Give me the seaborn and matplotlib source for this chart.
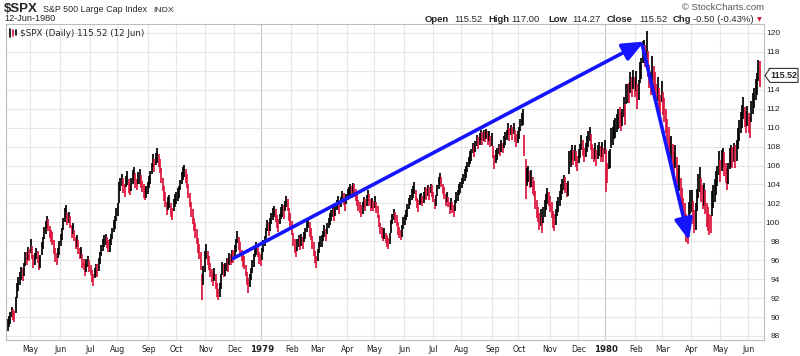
import numpy as np
import matplotlib
matplotlib.use("Agg")
import matplotlib.pyplot as plt
from matplotlib.patches import Polygon
from matplotlib.lines import Line2D
from matplotlib.transforms import IdentityTransform
import seaborn as sns

# months on the axis and number of trading days in each
# (first month starts 6-Apr-1978, last one ends 12-Jun-1980)
month_labels = ["Apr", "May", "Jun", "Jul", "Aug", "Sep", "Oct", "Nov", "Dec",
                "1979", "Feb", "Mar", "Apr", "May", "Jun", "Jul", "Aug", "Sep", "Oct", "Nov", "Dec",
                "1980", "Feb", "Mar", "Apr", "May", "Jun"]
month_days = [17, 22, 22, 20, 23, 20, 22, 21, 20,
              22, 19, 22, 20, 22, 21, 21, 23, 19, 23, 21, 20,
              22, 20, 21, 21, 21, 9]

# daily close of $SPX (open = close in this old data)
close = [
    # Apr 78
    89.2, 89.6, 90.1, 90.5, 90.3, 90.0, 91.6, 92.9, 93.6, 94.0, 94.8, 94.3, 95.0, 96.4, 96.1, 96.8, 96.5,
    # May 78
    97.4, 96.6, 95.9, 96.3, 96.7, 96.2, 95.6, 96.1, 97.3, 98.0, 98.8, 99.5, 100.2, 99.6, 98.9, 98.6, 98.1,
    97.3, 96.6, 96.2, 96.8, 97.4,
    # Jun 78
    98.2, 98.9, 99.8, 100.9, 101.0, 100.3, 100.6, 99.9, 99.1, 99.4, 98.5, 97.9, 98.2, 97.3, 96.6, 96.9,
    95.8, 95.5, 95.0, 95.6, 95.9, 95.3,
    # Jul 78
    94.9, 94.3, 94.0, 94.6, 95.1, 94.8, 95.6, 96.4, 96.9, 97.6, 97.9, 98.3, 97.9, 97.4, 97.7, 98.2, 98.9,
    99.5, 100.1, 100.7,
    # Aug 78
    101.3, 103.5, 104.1, 104.4, 103.8, 103.6, 104.3, 104.6, 103.9, 103.5, 104.0, 104.9, 105.1, 104.5,
    104.1, 104.7, 104.9, 104.2, 103.9, 103.4, 103.0, 103.3, 103.6,
    # Sep 78
    104.2, 104.8, 105.6, 106.4, 106.1, 106.8, 107.2, 106.6, 105.9, 104.8, 104.1, 103.0, 102.5, 101.6,
    101.9, 102.2, 101.4, 101.0, 101.8, 102.4,
    # Oct 78
    102.6, 102.9, 103.3, 103.9, 104.6, 105.2, 105.4, 105.0, 104.3, 103.2, 102.3, 101.4, 100.5, 99.7,
    99.2, 98.4, 97.6, 96.8, 95.9, 93.4, 94.5, 96.2,
    # Nov 78
    96.8, 96.3, 95.6, 95.1, 94.4, 93.9, 94.6, 93.7, 92.9, 92.4, 92.8, 93.9, 95.2, 94.8, 95.0, 95.7, 95.4,
    96.2, 96.0, 96.5, 96.3,
    # Dec 78
    96.9, 97.6, 98.3, 97.9, 97.2, 96.6, 96.1, 95.7, 95.0, 94.2, 93.4, 93.8, 94.6, 95.3, 96.1, 96.8, 97.3,
    96.9, 96.4, 96.1,
    # Jan 79
    96.7, 97.4, 98.1, 98.8, 99.6, 99.2, 99.9, 100.5, 100.8, 101.1, 100.6, 100.1, 99.8, 100.4, 100.9,
    101.3, 101.0, 101.7, 102.3, 101.8, 100.9, 100.2,
    # Feb 79
    99.3, 98.2, 97.6, 96.9, 97.5, 98.1, 97.7, 98.3, 97.8, 98.4, 98.9, 99.6, 99.9, 99.2, 98.7, 98.0, 97.1,
    96.3, 95.9,
    # Mar 79
    96.6, 97.4, 97.9, 98.1, 98.6, 99.0, 98.7, 99.4, 99.9, 100.3, 100.8, 101.1, 100.7, 101.4, 101.8,
    102.1, 101.6, 102.2, 102.7, 102.4, 101.9, 102.5,
    # Apr 79
    102.9, 103.2, 103.5, 103.1, 103.7, 103.4, 102.8, 102.3, 101.9, 101.5, 101.2, 101.6, 102.1, 101.8,
    102.4, 102.8, 102.3, 101.9, 102.1, 101.7,
    # May 79
    102.2, 101.6, 101.0, 100.2, 99.4, 98.9, 98.6, 98.9, 98.3, 98.0, 97.7, 98.4, 99.5, 100.3, 100.9,
    100.5, 100.1, 99.4, 99.0, 98.6, 99.2, 99.9,
    # Jun 79
    100.2, 100.8, 101.3, 101.9, 102.4, 102.9, 103.3, 103.6, 102.8, 102.1, 101.8, 102.3, 102.6, 102.2,
    102.7, 103.1, 102.9, 103.4, 103.1, 103.6, 103.3,
    # Jul 79
    102.7, 101.9, 102.4, 103.3, 104.1, 104.7, 104.2, 103.6, 103.0, 102.4, 102.7, 102.1, 101.6, 101.9,
    101.5, 101.3, 101.8, 102.5, 102.9, 103.4, 103.8,
    # Aug 79
    104.1, 104.6, 104.9, 105.4, 105.9, 106.3, 106.8, 107.2, 107.8, 107.5, 108.1, 108.6, 108.3, 108.9,
    109.2, 108.8, 109.3, 109.0, 109.4, 108.9, 109.1, 108.6, 108.8,
    # Sep 79
    107.4, 106.5, 106.9, 107.3, 107.8, 107.5, 108.1, 107.9, 108.4, 108.9, 109.3, 109.9, 109.2, 109.7,
    109.4, 109.9, 109.3, 108.6, 109.1,
    # Oct 79
    109.4, 110.3, 110.8, 111.2, 108.2, 104.1, 104.8, 105.2, 104.4, 104.7, 103.9, 103.6, 102.3, 101.5,
    100.8, 100.1, 100.4, 99.8, 100.7, 101.6, 102.1, 102.8, 102.5,
    # Nov 79
    102.0, 101.3, 100.4, 99.9, 100.6, 101.4, 101.9, 102.6, 103.1, 103.8, 104.3, 103.9, 103.4, 103.7,
    105.9, 106.8, 107.3, 106.9, 107.4, 106.6, 106.2,
    # Dec 79
    107.0, 107.6, 108.3, 107.9, 107.2, 107.6, 108.2, 108.9, 109.3, 108.4, 107.6, 107.1, 107.5, 106.9,
    107.4, 107.8, 107.3, 107.6, 107.2, 107.9,
    # Jan 80
    105.8, 105.2, 106.5, 106.8, 108.9, 109.1, 109.9, 109.9, 110.4, 111.1, 111.0, 110.7, 111.1, 112.1,
    111.5, 113.4, 113.7, 113.6, 114.9, 114.1, 115.2, 114.2,
    # Feb 80
    114.9, 113.4, 114.0, 115.7, 116.3, 117.9, 118.1, 117.6, 118.4, 116.7, 115.4, 114.6, 116.1, 115.3,
    114.8, 113.3, 114.1, 112.8, 112.4, 113.7,
    # Mar 80
    112.5, 111.9, 110.6, 109.6, 108.9, 107.5, 107.8, 106.9, 106.2, 106.9, 105.4, 104.3, 104.8, 103.1,
    102.2, 101.1, 100.7, 99.3, 98.2, 100.7, 102.1,
    # Apr 80
    102.2, 101.0, 100.2, 100.6, 102.3, 103.8, 104.3, 103.5, 102.6, 103.1, 102.0, 100.8, 100.3, 99.8,
    99.6, 101.9, 102.6, 103.4, 104.1, 104.9, 106.3,
    # May 80
    105.5, 106.4, 106.9, 106.1, 105.2, 104.5, 105.3, 106.6, 107.1, 106.8, 107.4, 107.0, 107.6, 108.7,
    109.8, 110.5, 111.3, 111.9, 111.2, 110.6, 111.2,
    # Jun 80
    110.5, 110.2, 111.6, 112.6, 113.2, 113.9, 114.7, 116.0, 115.52,
]

# daily high minus close
hi_off = [
    0.6, 0.5, 0.4, 0.6, 0.5, 0.6, 0.5, 0.7, 0.6, 0.8, 0.5, 0.9, 0.7, 0.5, 0.8, 0.6, 0.7,
    0.8, 0.9, 0.7, 0.5, 0.6, 0.8, 0.7, 0.5, 0.6, 0.5, 0.7, 0.6, 0.5, 0.8, 0.7, 0.6, 0.9, 0.8, 0.7, 0.6, 0.5, 0.6,
    0.6, 0.5, 0.7, 0.6, 0.8, 0.7, 0.5, 0.8, 0.6, 0.5, 0.7, 0.6, 0.5, 0.8, 0.7, 0.5, 0.9, 0.6, 0.7, 0.5, 0.6, 0.7,
    0.6, 0.7, 0.5, 0.6, 0.5, 0.8, 0.6, 0.5, 0.7, 0.6, 0.8, 0.5, 0.6, 0.7, 0.5, 0.6, 0.5, 0.7, 0.6, 0.8,
    0.7, 0.8, 0.6, 0.7, 0.9, 0.5, 0.6, 0.8, 0.7, 0.6, 0.7, 0.6, 0.8, 0.7, 0.5, 0.6, 0.7, 0.8, 0.5, 0.7, 0.6, 0.5, 0.7,
    0.7, 0.6, 0.7, 0.8, 0.6, 0.5, 0.7, 0.6, 0.8, 0.9, 0.6, 0.8, 0.7, 0.6, 0.8, 0.7, 0.6, 0.5, 0.7, 0.6,
    0.6, 0.7, 0.5, 0.6, 0.7, 0.6, 0.7, 0.6, 0.8, 0.9, 0.8, 0.7, 0.9, 0.8, 0.7, 0.9, 0.8, 0.9, 1.0, 1.2, 0.9, 0.8,
    0.9, 0.7, 0.8, 0.6, 0.7, 0.8, 0.6, 0.9, 0.7, 0.6, 0.8, 0.7, 0.6, 0.8, 0.7, 0.5, 0.8, 0.6, 0.7, 0.6, 0.8,
    0.7, 0.6, 0.8, 0.6, 0.7, 0.5, 0.6, 0.7, 0.5, 0.6, 0.7, 0.8, 0.6, 0.7, 0.6, 0.8, 0.6, 0.7, 0.5, 0.6,
    0.6, 0.7, 0.5, 0.6, 0.7, 0.8, 0.6, 0.5, 0.7, 0.6, 0.8, 0.7, 0.6, 0.5, 0.7, 0.6, 0.8, 0.6, 0.5, 0.7, 0.6, 0.8,
    0.8, 0.7, 0.6, 0.5, 0.7, 0.6, 0.8, 0.5, 0.7, 0.6, 0.5, 0.7, 0.6, 0.8, 0.7, 0.6, 0.8, 0.7, 0.6,
    0.6, 0.5, 0.7, 0.6, 0.5, 0.7, 0.6, 0.5, 0.6, 0.7, 0.5, 0.6, 0.7, 0.5, 0.6, 0.7, 0.6, 0.5, 0.6, 0.7, 0.6, 0.5,
    0.6, 0.5, 0.6, 0.7, 0.5, 0.6, 0.7, 0.6, 0.5, 0.7, 0.6, 0.5, 0.6, 0.7, 0.5, 0.6, 0.7, 0.6, 0.5, 0.6,
    0.6, 0.5, 0.7, 0.6, 0.5, 0.6, 0.7, 0.5, 0.6, 0.7, 0.6, 0.5, 0.7, 0.6, 0.5, 0.6, 0.7, 0.6, 0.5, 0.6, 0.5, 0.7,
    0.6, 0.5, 0.6, 0.7, 0.5, 0.6, 0.5, 0.7, 0.6, 0.5, 0.6, 0.7, 0.5, 0.6, 0.5, 0.6, 0.7, 0.5, 0.6, 0.5, 0.6,
    0.5, 0.6, 0.5, 0.6, 0.7, 0.5, 0.6, 0.5, 0.7, 0.6, 0.5, 0.6, 0.5, 0.7, 0.6, 0.5, 0.6, 0.7, 0.5, 0.6, 0.5,
    0.6, 0.5, 0.7, 0.6, 0.5, 0.6, 0.7, 0.5, 0.6, 0.7, 0.5, 0.6, 0.7, 0.5, 0.6, 0.7, 0.5, 0.6, 0.5, 0.7, 0.6, 0.5, 0.6,
    0.7, 0.6, 0.7, 0.6, 0.5, 0.7, 0.6, 0.5, 0.7, 0.6, 0.5, 0.6, 0.8, 0.6, 0.7, 0.6, 0.5, 0.7, 0.6,
    0.7, 0.6, 0.7, 0.8, 1.0, 2.6, 0.9, 0.8, 1.0, 0.8, 0.9, 0.8, 1.0, 0.9, 0.8, 0.9, 1.0, 0.8, 0.9, 0.8, 0.9, 0.8, 0.7,
    0.8, 0.9, 0.8, 1.0, 0.8, 0.9, 0.8, 0.7, 0.9, 0.8, 0.7, 0.9, 0.8, 0.7, 1.6, 0.8, 0.9, 0.7, 0.8, 0.9, 0.8,
    0.8, 0.7, 0.9, 0.8, 0.7, 0.8, 0.9, 0.7, 0.8, 0.9, 0.7, 0.8, 0.9, 0.7, 0.8, 0.7, 0.8, 0.9, 0.7, 0.8,
    2.0, 1.1, 1.0, 0.9, 1.1, 1.0, 0.9, 1.1, 1.0, 0.9, 1.2, 1.0, 0.9, 1.1, 1.0, 1.2, 0.9, 1.1, 1.0, 1.2, 0.9, 1.1,
    1.1, 1.2, 1.0, 1.2, 1.1, 1.3, 1.2, 1.1, 1.8, 1.4, 1.2, 1.3, 1.5, 1.2, 1.1, 1.3, 1.2, 1.4, 1.1, 1.2,
    1.3, 1.2, 1.4, 1.3, 1.2, 1.5, 1.3, 1.4, 1.2, 1.3, 1.5, 1.4, 1.3, 1.6, 1.4, 1.5, 1.3, 1.6, 1.4, 1.5, 1.3,
    1.2, 1.3, 1.1, 1.4, 1.2, 1.3, 1.5, 1.2, 1.3, 1.1, 1.4, 1.2, 1.3, 1.1, 1.2, 1.4, 1.3, 1.2, 1.3, 1.1, 1.2,
    1.1, 1.2, 1.0, 1.3, 1.1, 1.2, 1.0, 1.3, 1.1, 1.2, 1.0, 1.2, 1.1, 1.3, 1.0, 1.2, 1.1, 1.3, 1.0, 1.2, 1.1,
    1.0, 0.9, 1.2, 1.1, 1.0, 1.2, 1.1, 1.2, 1.48,
]

# daily close minus low
lo_off = [
    0.7, 0.6, 0.8, 0.5, 0.6, 0.5, 1.2, 0.9, 0.8, 0.6, 0.9, 0.5, 0.7, 1.0, 0.6, 0.8, 0.6,
    0.6, 0.5, 0.7, 0.8, 0.6, 0.5, 0.6, 0.9, 0.7, 0.8, 0.6, 0.7, 0.8, 0.5, 0.6, 0.7, 0.5, 0.6, 0.8, 0.7, 0.6, 0.8,
    0.7, 0.8, 0.6, 0.9, 0.5, 0.6, 0.7, 0.5, 0.8, 0.6, 0.5, 0.7, 0.8, 0.6, 0.5, 0.7, 0.6, 0.5, 0.7, 0.8, 0.6, 0.5,
    0.5, 0.6, 0.7, 0.5, 0.8, 0.6, 0.7, 0.8, 0.5, 0.6, 0.5, 0.7, 0.6, 0.5, 0.8, 0.6, 0.7, 0.5, 0.8, 0.6,
    0.6, 1.5, 0.8, 0.6, 0.7, 0.9, 0.6, 0.7, 0.8, 0.6, 0.7, 0.8, 0.6, 0.9, 0.7, 0.6, 0.8, 0.6, 0.7, 0.8, 0.6, 0.7, 0.6,
    0.6, 0.7, 0.5, 0.6, 0.8, 0.7, 0.9, 0.8, 0.7, 0.6, 0.8, 0.7, 0.9, 0.8, 0.6, 0.7, 0.8, 0.7, 0.6, 0.8,
    0.7, 0.6, 0.7, 0.5, 0.6, 0.7, 0.6, 0.8, 0.7, 0.6, 0.7, 0.8, 0.7, 0.6, 0.8, 0.7, 0.8, 0.7, 0.9, 1.6, 1.1, 1.4,
    0.7, 0.8, 0.6, 0.9, 0.7, 0.6, 0.8, 0.7, 0.8, 0.6, 0.7, 0.9, 0.8, 0.6, 0.7, 0.8, 0.6, 0.7, 0.5, 0.7, 0.6,
    0.6, 0.7, 0.5, 0.8, 0.6, 0.7, 0.8, 0.6, 0.7, 0.8, 0.9, 0.6, 0.7, 0.6, 0.8, 0.5, 0.7, 0.6, 0.8, 0.7,
    0.7, 0.5, 0.6, 0.7, 0.5, 0.6, 0.8, 0.7, 0.6, 0.5, 0.6, 0.7, 0.8, 0.6, 0.5, 0.7, 0.6, 0.5, 0.7, 0.6, 0.8, 0.7,
    0.6, 0.7, 0.8, 0.6, 0.5, 0.7, 0.6, 0.8, 0.6, 0.5, 0.7, 0.6, 0.5, 0.7, 0.6, 0.8, 0.7, 0.6, 0.7,
    0.7, 0.6, 0.5, 0.7, 0.6, 0.5, 0.7, 0.6, 0.5, 0.6, 0.7, 0.5, 0.6, 0.7, 0.5, 0.6, 0.7, 0.6, 0.5, 0.6, 0.7, 0.6,
    0.5, 0.6, 0.7, 0.5, 0.6, 0.7, 0.5, 0.6, 0.7, 0.5, 0.6, 0.7, 0.5, 0.6, 0.7, 0.5, 0.6, 0.7, 0.6, 0.5,
    0.7, 0.6, 0.5, 0.7, 0.6, 0.5, 0.6, 0.7, 0.5, 0.6, 0.5, 0.7, 0.6, 0.5, 0.7, 0.6, 0.5, 0.7, 0.6, 0.5, 0.7, 0.6,
    0.5, 0.6, 0.7, 0.5, 0.6, 0.5, 0.7, 0.6, 0.5, 0.6, 0.7, 0.5, 0.6, 0.5, 0.7, 0.6, 0.5, 0.6, 0.7, 0.5, 0.6,
    0.6, 0.5, 0.7, 0.5, 0.6, 0.7, 0.5, 0.6, 0.5, 0.7, 0.6, 0.5, 0.7, 0.6, 0.5, 0.7, 0.6, 0.5, 0.6, 0.5, 0.7,
    0.5, 0.6, 0.5, 0.7, 0.6, 0.5, 0.6, 0.7, 0.5, 0.6, 0.7, 0.5, 0.6, 0.7, 0.5, 0.6, 0.7, 0.5, 0.6, 0.7, 0.5, 0.6, 0.7,
    0.6, 0.9, 0.6, 0.7, 0.6, 0.5, 0.7, 0.6, 0.5, 0.7, 0.6, 0.7, 0.6, 0.5, 0.7, 0.6, 0.8, 0.6, 0.7,
    0.6, 0.7, 0.6, 0.9, 1.2, 1.6, 1.0, 0.9, 0.8, 1.0, 0.9, 0.8, 0.9, 1.0, 0.8, 0.9, 0.8, 0.9, 0.8, 1.0, 0.8, 0.9, 0.8,
    0.9, 0.8, 1.0, 0.8, 0.9, 0.7, 0.8, 0.9, 0.7, 0.8, 0.9, 0.8, 0.7, 0.9, 0.8, 0.9, 0.7, 0.8, 0.9, 0.7, 0.8,
    0.7, 0.8, 0.7, 0.9, 0.8, 0.7, 0.8, 0.9, 0.7, 0.8, 0.9, 0.7, 0.8, 0.9, 0.7, 0.8, 0.9, 0.7, 0.8, 0.7,
    2.6, 1.0, 0.9, 1.1, 1.0, 0.9, 1.1, 1.0, 0.9, 1.2, 1.0, 1.1, 0.9, 1.0, 1.2, 0.9, 1.1, 1.0, 1.2, 0.9, 1.1, 1.0,
    1.0, 1.4, 1.1, 1.0, 1.2, 1.1, 1.3, 1.2, 1.1, 1.3, 1.2, 1.1, 2.3, 1.1, 1.2, 1.0, 1.3, 1.1, 1.2, 1.0,
    1.2, 1.3, 1.2, 1.4, 1.3, 1.2, 1.4, 1.3, 1.5, 1.2, 1.3, 1.4, 1.5, 1.3, 1.4, 1.2, 1.5, 1.4, 0.5, 1.3, 1.2,
    1.1, 1.2, 1.3, 1.4, 1.1, 1.2, 1.1, 1.3, 1.2, 1.4, 1.1, 1.3, 1.2, 1.1, 0.7, 1.2, 1.1, 1.3, 1.2, 1.1, 1.3,
    1.2, 1.0, 1.1, 1.2, 1.0, 1.1, 1.3, 1.0, 1.2, 1.1, 1.0, 1.3, 1.1, 1.0, 1.2, 1.1, 1.3, 1.0, 1.1, 1.2, 1.0,
    1.1, 1.3, 1.0, 1.2, 1.1, 1.0, 1.2, 1.1, 1.25,
]

# hand drawn trend arrows: (trading day, price) start and tip
arrow_up = [(166.0, 96.2), (468.2, 119.1)]
arrow_down = [(466.7, 118.7), (501.0, 98.1)]

close = np.array(close)
high = close + np.array(hi_off)
low = close - np.array(lo_off)
days = np.arange(len(close))
month_start = np.concatenate([[0], np.cumsum(month_days)[:-1]])

sns.set_style("white")
plt.rcParams["font.family"] = ["DejaVu Sans"]

W, H = 800, 356
fig = plt.figure(figsize=(W / 100, H / 100), dpi=100)
ax = fig.add_axes([6 / W, 1 - 339.5 / H, 758 / W, 315.5 / H])

# grid
for s, lbl in zip(month_start[1:], month_labels[1:]):
    ax.axvline(s - 0.5, color="#c9c9c9" if lbl.isdigit() else "#e6e6e6", lw=0.8, zorder=0)
for p in range(88, 121, 2):
    ax.axhline(p, color="#e6e6e6", lw=0.8, zorder=0)

# bars: black when close is up on the day, red when down
chg = np.diff(close, prepend=close[0])
colors = np.where(chg < 0, "#dc143c", "#000000")
ax.vlines(days, low, high, colors=colors, lw=1.25, zorder=2)

ax.set_xlim(-1.18, 556.2)
ax.set_ylim(87.63, 120.95)

ax.set_xticks(month_start[1:])
ax.set_xticklabels(month_labels[1:])
for t in ax.get_xticklabels():
    t.set_fontsize(5.6)
    t.set_color("#222222")
    if t.get_text().isdigit():
        t.set_fontweight("bold")
        t.set_fontsize(6.2)
ax.tick_params(axis="x", length=0, pad=4)

ax.yaxis.tick_right()
ax.set_yticks(range(88, 121, 2))
ax.tick_params(axis="y", length=0, pad=11.5)
for t in ax.get_yticklabels():
    t.set_fontsize(6)
    t.set_family("Liberation Sans")
    t.set_color("#222222")
    t.set_horizontalalignment("right")

for sp in ax.spines.values():
    sp.set_color("#bdbdbd")
    sp.set_linewidth(0.8)

# trend arrows
for a in (arrow_up, arrow_down):
    ax.annotate("", xy=a[1], xytext=a[0],
                arrowprops=dict(arrowstyle="-|>,head_length=1.3,head_width=0.55",
                                mutation_scale=10, color="#1414ff", lw=2.6,
                                shrinkA=0, shrinkB=0), zorder=5)


# header (positions in pixels from the top left)
def fx(x):
    return x / W


def fy(y):
    return 1 - y / H


fig.text(fx(4), fy(12.5), "$SPX", fontsize=9.5, fontweight="bold", family="Liberation Sans", va="baseline")
fig.text(fx(43), fy(11.5), "S&P 500 Large Cap Index", fontsize=6.4, family="Liberation Sans", va="baseline")
fig.text(fx(153), fy(11.5), "INDX", fontsize=6.1, family="Liberation Sans", va="baseline")
fig.text(fx(4), fy(21), "12-Jun-1980", fontsize=6.6, family="Liberation Sans", va="baseline", color="#222222")
fig.text(fx(764), fy(10.5), "\u00a9 StockCharts.com", fontsize=6.8, family="Liberation Sans", va="baseline",
         ha="right", color="#555555")

info = [(425, "Open", True), (454, "115.52", False), (488, "High", True), (511, "117.00", False),
        (548, "Low", True), (572, "114.27", False), (607, "Close", True), (639, "115.52", False),
        (673, "Chg", True), (693, "-0.50 (-0.43%)", False)]
for x, s, b in info:
    fig.text(fx(x), fy(22.5), s, fontsize=6.8, family="Liberation Sans",
             fontweight="bold" if b else "normal", va="baseline")
fig.text(fx(757), fy(20), "\u25bc", fontsize=4.5, color="#c8102e", va="center")

# legend inside plot
fig.add_artist(Line2D([fx(10), fx(10)], [fy(37), fy(29)], color="black", lw=1.2))
fig.add_artist(Line2D([fx(13), fx(13)], [fy(36), fy(30)], color="#dc143c", lw=1.2))
fig.add_artist(Line2D([fx(16), fx(16)], [fy(35), fy(29.5)], color="black", lw=1.2))
fig.text(fx(20), fy(33), "$SPX (Daily) 115.52 (12 Jun)", fontsize=6.3, va="center")

# last price tag on the right axis
fig.canvas.draw()
yd = ax.transData.transform((0, close[-1]))[1]
tag = Polygon([(765, yd), (770, yd + 7), (798, yd + 7), (798, yd - 7), (770, yd - 7)],
              closed=True, facecolor="white", edgecolor="#333333", lw=0.8,
              transform=IdentityTransform(), zorder=10)
fig.add_artist(tag)
fig.text(fx(784), yd / H, f"{close[-1]:.2f}", fontsize=6.5, fontweight="bold",
         family="Liberation Sans", ha="center", va="center", zorder=11)

fig.savefig("out.png", dpi=100)
